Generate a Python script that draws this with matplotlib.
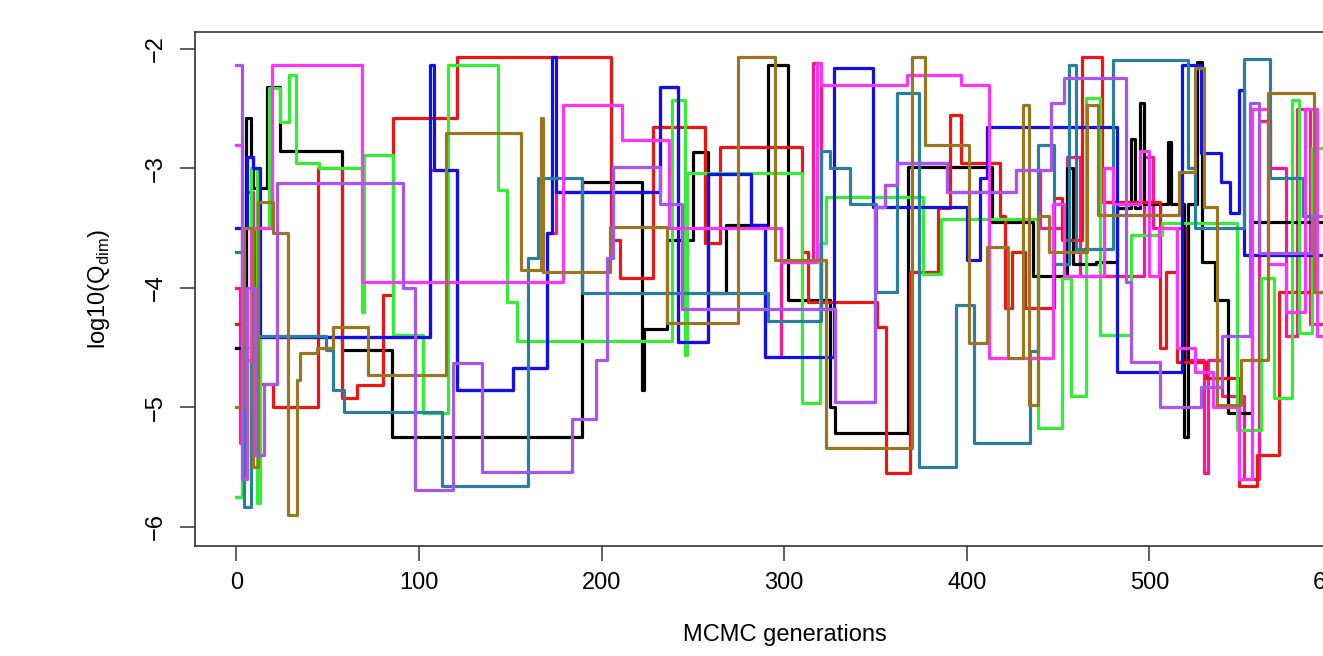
import matplotlib
matplotlib.use("Agg")
import matplotlib.pyplot as plt

plt.rcParams['font.family'] = ['Liberation Sans', 'DejaVu Sans']

# step traces of the MCMC chains: generation where a new value starts, and log10(Q_dim)
black_x = [0, 5, 8, 9, 17, 24, 58, 85, 189, 222, 223, 236, 250, 258, 268, 291, 302, 325, 328, 368, 414, 436, 455, 458, 471, 482, 490, 492, 495, 497, 510, 512, 519, 521, 526, 529, 536, 543, 556, 600]
black_y = [-4.5, -2.58, -2.9, -3.16, -2.32, -2.85, -4.52, -5.25, -3.11, -4.85, -4.34, -3.6, -2.86, -4.04, -3.47, -2.13, -4.1, -5.0, -5.21, -2.99, -3.45, -3.9, -3.0, -3.8, -3.78, -3.33, -2.75, -3.33, -2.45, -3.3, -2.78, -3.3, -5.25, -3.3, -2.11, -3.78, -4.1, -5.05, -3.45, -3.45]

red_x = [0, 3, 10, 20, 44.5, 58, 66, 80, 86, 121, 205, 210, 228, 256.5, 265, 310, 313, 351, 356, 369, 384, 391, 397, 418, 421, 425, 432, 448, 452, 463, 474, 506, 509, 515, 531, 549, 559, 571, 600]
red_y = [-4.3, -3.5, -4.8, -5.0, -3.0, -4.92, -4.81, -4.06, -2.58, -2.07, -3.6, -3.92, -2.65, -3.62, -2.82, -3.7, -4.12, -4.33, -5.55, -3.87, -3.33, -2.55, -2.95, -3.4, -4.17, -3.7, -4.17, -3.25, -3.6, -2.07, -3.28, -4.5, -3.87, -4.62, -4.75, -5.66, -5.4, -4.03, -4.03]

green_x = [0, 3, 8, 11, 13, 18, 24, 29, 32.5, 45, 69, 70, 86, 102, 115.7, 143, 148, 153.5, 238.5, 245.5, 247, 310, 319.5, 323, 376, 386, 439, 452, 457, 465, 473, 490, 507, 548, 561, 568, 578, 582, 589, 600]
green_y = [-5.75, -4.5, -3.0, -5.8, -3.5, -2.33, -2.61, -2.22, -2.95, -3.0, -4.2, -2.89, -4.39, -5.05, -2.13, -3.18, -4.12, -4.44, -2.43, -4.56, -3.04, -4.96, -3.62, -3.24, -3.88, -3.42, -5.17, -3.92, -4.9, -2.41, -4.39, -3.56, -3.46, -5.19, -3.92, -4.92, -2.43, -4.38, -2.83, -2.83]

blue_x = [0, 6, 9, 13, 106, 108, 121, 151.5, 170, 173, 175, 232, 242, 258, 282, 289.5, 327.5, 348.5, 400, 407, 411, 482, 518, 528, 539, 544, 549, 552, 600]
blue_y = [-3.5, -2.9, -3.0, -4.41, -2.13, -3.01, -4.85, -4.67, -3.54, -2.07, -3.2, -2.32, -4.45, -3.05, -3.47, -4.58, -2.16, -3.32, -3.77, -3.08, -2.65, -4.7, -2.13, -2.87, -3.11, -3.37, -2.34, -3.72, -3.72]

teal_x = [0, 4, 8, 49, 53, 59, 112.5, 159.5, 165, 189, 291, 320, 325, 336, 350, 361.7, 374, 394, 404, 434.5, 439, 448, 456, 460, 480, 521, 525, 552, 566, 584, 600]
teal_y = [-3.7, -5.83, -4.4, -4.52, -4.85, -5.04, -5.66, -3.75, -3.08, -4.04, -4.28, -2.85, -3.0, -3.3, -4.03, -2.37, -5.5, -4.14, -5.3, -4.53, -2.8, -3.8, -2.13, -3.67, -2.09, -3.0, -3.5, -2.08, -3.08, -3.4, -3.6]

magenta_x = [0, 3, 8, 19.5, 69, 179, 211, 237, 298, 318, 320, 367, 397, 412, 447, 453, 470, 475, 480, 495, 500, 505, 515, 525, 535, 549, 556, 565, 575, 585, 592, 600]
magenta_y = [-2.8, -4.6, -3.5, -2.13, -3.95, -2.47, -2.76, -3.5, -3.78, -2.12, -2.3, -2.22, -2.3, -4.59, -3.3, -3.9, -3.9, -3.0, -3.3, -2.85, -3.9, -3.5, -4.5, -4.7, -5.0, -5.6, -2.5, -3.8, -4.2, -2.5, -4.4, -4.4]

brown_x = [0, 4, 9, 12, 20, 28, 33, 35, 44, 53, 72, 115, 156, 167, 168, 204.5, 236, 274.5, 295, 323, 370, 377, 401, 411, 422.5, 431, 434, 439, 445, 466, 472, 516, 525, 530, 537, 550, 565, 590, 600]
brown_y = [-5.0, -3.5, -5.5, -3.28, -3.54, -5.9, -4.77, -4.54, -4.5, -4.33, -4.73, -2.7, -3.85, -2.58, -3.87, -3.49, -4.29, -2.07, -3.77, -5.34, -2.07, -2.8, -4.46, -3.66, -4.59, -2.47, -4.98, -3.4, -3.7, -2.47, -3.39, -3.03, -2.16, -3.32, -4.98, -4.6, -2.37, -4.03, -2.2]

purple_x = [0, 3, 6, 10, 15, 22, 91, 98, 118.5, 134.5, 184, 197, 203, 206, 232, 244, 328, 349.5, 355, 362, 389, 427, 446, 453, 487, 490, 506, 528, 540, 555, 560, 589, 600]
purple_y = [-2.13, -5.6, -4.0, -5.4, -4.8, -3.12, -4.0, -5.69, -4.63, -5.54, -5.1, -4.6, -3.75, -2.99, -3.3, -4.18, -4.95, -3.32, -3.14, -2.95, -3.2, -3.01, -2.45, -2.24, -3.95, -4.62, -5.0, -4.83, -4.4, -2.45, -3.71, -3.4, -3.4]

pink_x = [0, 2, 5, 9, 13, 106, 108, 121, 151.5, 170, 173, 175, 232, 242, 258, 282, 289.5, 298, 316, 320, 328, 349.5, 355, 362, 389, 427, 440, 455, 462, 490, 497, 502, 520, 530, 532, 540, 552, 557, 560, 566, 575, 581, 588, 600]
pink_y = [-4.0, -5.3, -3.2, -4.6, -4.41, -3.01, -3.01, -4.85, -4.67, -3.54, -3.54, -3.2, -2.32, -4.45, -3.05, -3.47, -4.58, -3.78, -2.12, -4.18, -4.95, -3.32, -3.14, -2.95, -3.2, -3.01, -3.5, -2.9, -3.9, -3.9, -2.9, -3.5, -4.6, -5.55, -4.6, -4.9, -5.6, -5.6, -2.6, -3.0, -4.4, -2.5, -4.3, -4.3]

chains = [
    (pink_x, pink_y, "#ff1493"),
    (black_x, black_y, "#000000"),
    (red_x, red_y, "#f01515"),
    (green_x, green_y, "#33ee33"),
    (blue_x, blue_y, "#1010ee"),
    (teal_x, teal_y, "#2a7f9e"),
    (magenta_x, magenta_y, "#ff33ff"),
    (brown_x, brown_y, "#9a7620"),
    (purple_x, purple_y, "#a855ee"),
]

fig = plt.figure(figsize=(13.23, 6.56), dpi=100)
ax = fig.add_axes([195 / 1323, 110 / 656, 1179 / 1323, 514 / 656])

for xs, ys, col in chains:
    ax.plot(xs, ys, drawstyle="steps-post", color=col, lw=2.3)

ax.set_xlim(-22.7, 623)
ax.set_ylim(-6.159, -1.858)
ax.set_xticks([0, 100, 200, 300, 400, 500, 600])
ax.set_yticks([-2, -3, -4, -5, -6])

ax.tick_params(axis="both", labelsize=17, length=11, width=1.1, color="#333333")
ax.tick_params(axis="x", pad=8)
ax.tick_params(axis="y", pad=9, labelrotation=90)
for lab in ax.get_yticklabels():
    lab.set_va("center")

for s in ax.spines.values():
    s.set_linewidth(1.2)
    s.set_color("#333333")

ax.set_xlabel("MCMC generations", fontsize=17)
ax.set_ylabel(r"log10(Q$_{\mathregular{dim}}$)", fontsize=17)
ax.xaxis.set_label_coords(0.5, -0.152)
ax.yaxis.set_label_coords(-0.07, 0.5)

fig.savefig("out.png", dpi=100)
